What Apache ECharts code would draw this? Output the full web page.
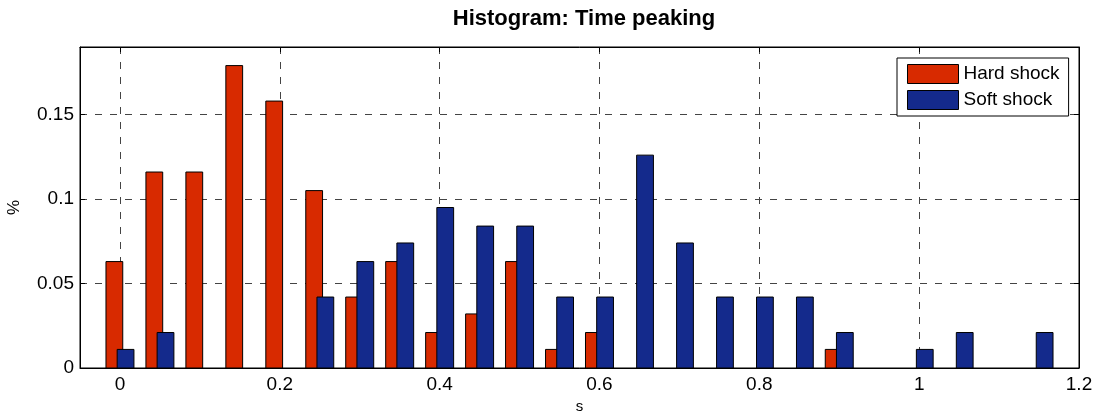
<!DOCTYPE html>
<html>
<head>
<meta charset="utf-8">
<script src="https://cdn.jsdelivr.net/npm/echarts@6/dist/echarts.min.js"></script>
<style>
html,body{margin:0;padding:0;background:#fff;}
#chart{width:1095px;height:414px;}
</style>
</head>
<body>
<div id="chart"></div>
<script>
const bins = [0, 0.05, 0.1, 0.15, 0.2, 0.25, 0.3, 0.35, 0.4, 0.45, 0.5, 0.55, 0.6, 0.65, 0.7, 0.75, 0.8, 0.85, 0.9, 0.95, 1.0, 1.05, 1.1, 1.15];
const hardShock = [0.063, 0.116, 0.116, 0.179, 0.158, 0.105, 0.042, 0.063, 0.021, 0.032, 0.063, 0.011, 0.021, 0, 0, 0, 0, 0, 0.011, 0, 0, 0, 0, 0];
const softShock = [0.011, 0.021, 0, 0, 0, 0.042, 0.063, 0.074, 0.095, 0.084, 0.084, 0.042, 0.042, 0.126, 0.074, 0.042, 0.042, 0.042, 0.021, 0, 0.011, 0.021, 0, 0.021];
const xTicks = [0, 0.2, 0.4, 0.6, 0.8, 1, 1.2];
const yTicks = [0, 0.05, 0.1, 0.15];
const seriesNames = ['Hard shock', 'Soft shock'];
const titleText = 'Histogram: Time peaking';
const xName = 's';
const yName = '%';

const FONT = '"Liberation Sans", Arial, Helvetica, sans-serif';
const RED = '#D82A00';
const BLUE = '#142A8C';
const BAR_W = 0.021;
const OFFSETS = [-0.007, 0.007];

function makeRender(offset, color) {
  return function (params, api) {
    const x = api.value(0), y = api.value(1);
    if (!y) return null;
    const p0 = api.coord([x + offset - BAR_W / 2, y]);
    const p1 = api.coord([x + offset + BAR_W / 2, 0]);
    return {
      type: 'rect',
      shape: { x: p0[0], y: p0[1], width: p1[0] - p0[0], height: p1[1] - p0[1] },
      style: { fill: color, stroke: '#000', lineWidth: 1 }
    };
  };
}

const chart = echarts.init(document.getElementById('chart'), null, { renderer: 'canvas' });

const axisCommon = {
  axisLine: { show: true, onZero: false, lineStyle: { color: '#000', width: 1 } },
  axisTick: { show: true, inside: true, length: 5, lineStyle: { color: '#000' } }
};

chart.setOption({
  backgroundColor: '#fff',
  animation: false,
  title: {
    text: titleText,
    left: 579,
    top: 3,
    textAlign: 'center',
    textStyle: { fontFamily: FONT, fontSize: 22, fontWeight: 'bold', color: '#000' }
  },
  legend: {
    orient: 'vertical',
    left: 897,
    top: 58,
    padding: [6, 9, 6, 10],
    itemWidth: 51,
    itemHeight: 19,
    itemGap: 6,
    icon: 'rect',
    backgroundColor: '#fff',
    borderColor: '#000',
    borderWidth: 1,
    borderRadius: 0,
    itemStyle: { borderColor: '#000', borderWidth: 1 },
    textStyle: { fontFamily: FONT, fontSize: 19, color: '#000', lineHeight: 19, padding: [0, 0, 0, 0] },
    data: seriesNames
  },
  grid: {
    left: 80, right: 16, top: 47, bottom: 46,
    outerBoundsMode: 'none', containLabel: false,
    show: true, borderColor: '#000', borderWidth: 1, backgroundColor: '#fff'
  },
  xAxis: [{
    type: 'value', min: -0.05, max: 1.2, position: 'bottom',
    name: xName, nameLocation: 'middle', nameGap: 30,
    nameTextStyle: { fontFamily: FONT, fontSize: 15, color: '#000' },
    ...axisCommon,
    axisTick: { ...axisCommon.axisTick, customValues: xTicks },
    axisLabel: { customValues: xTicks, margin: 7, fontFamily: FONT, fontSize: 19, color: '#000' },
    splitLine: { show: true, lineStyle: { color: '#444', type: [7, 8], width: 1 } }
  }, {
    type: 'value', min: -0.05, max: 1.2, position: 'top',
    ...axisCommon,
    axisTick: { ...axisCommon.axisTick, customValues: xTicks },
    axisLabel: { show: false },
    splitLine: { show: false }
  }],
  yAxis: [{
    type: 'value', min: 0, max: 0.19, position: 'left',
    name: yName, nameLocation: 'middle', nameGap: 57, nameRotate: 90,
    nameTextStyle: { fontFamily: FONT, fontSize: 17, color: '#000' },
    ...axisCommon,
    axisTick: { ...axisCommon.axisTick, customValues: yTicks },
    axisLabel: { customValues: yTicks, margin: 6, fontFamily: FONT, fontSize: 19, color: '#000' },
    splitLine: { show: true, lineStyle: { color: '#444', type: [7, 8], width: 1 } }
  }, {
    type: 'value', min: 0, max: 0.19, position: 'right',
    ...axisCommon,
    axisTick: { ...axisCommon.axisTick, customValues: yTicks },
    axisLabel: { show: false },
    splitLine: { show: false }
  }],
  series: [{
    name: seriesNames[0],
    type: 'custom',
    xAxisIndex: 0, yAxisIndex: 0,
    itemStyle: { color: RED, borderColor: '#000', borderWidth: 1 },
    renderItem: makeRender(OFFSETS[0], RED),
    encode: { x: 0, y: 1 },
    data: bins.map((b, i) => [b, hardShock[i]]),
    z: 2
  }, {
    name: seriesNames[1],
    type: 'custom',
    xAxisIndex: 0, yAxisIndex: 0,
    itemStyle: { color: BLUE, borderColor: '#000', borderWidth: 1 },
    renderItem: makeRender(OFFSETS[1], BLUE),
    encode: { x: 0, y: 1 },
    data: bins.map((b, i) => [b, softShock[i]]),
    z: 3
  }]
});
</script>
</body>
</html>
